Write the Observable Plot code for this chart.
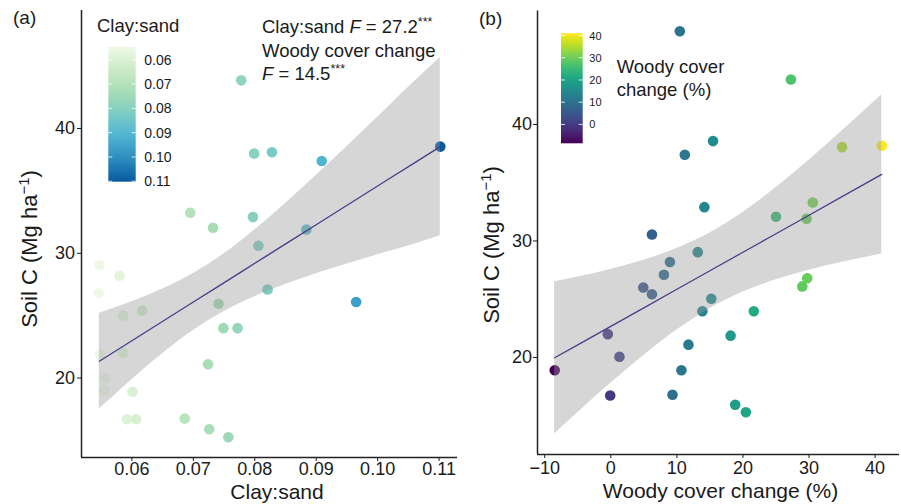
<!DOCTYPE html>
<html><head><meta charset="utf-8">
<script src="https://cdn.jsdelivr.net/npm/d3@7"></script>
<script src="https://cdn.jsdelivr.net/npm/@observablehq/plot@0.6"></script>
<style>
body{margin:0;background:#fff;}
#wrap{position:relative;width:901px;height:504px;overflow:hidden;font-family:"Liberation Sans",Arial,sans-serif;}
#wrap svg{position:absolute;top:0;}
</style></head><body><div id="wrap"></div>
<script>
// ---- Panel (a): Soil C vs clay:sand ----
const clayX = [0.0778,0.0799,0.0828,0.0909,0.1102,0.0695,0.0732,0.0797,0.0884,0.0806,
  0.0547,0.0580,0.0546,0.0586,0.0617,0.0741,0.0821,0.0965,0.0749,0.0772,
  0.0548,0.0586,0.0724,0.0557,0.0555,0.0601,0.0592,0.0607,0.0686,0.0726,0.0757];
const soilA = [43.86,38.0,38.1,37.4,38.55,33.25,32.05,32.9,31.9,30.6,
  29.06,28.2,26.8,25.0,25.4,25.95,27.1,26.1,24.0,24.0,
  21.9,22.0,21.1,20.0,19.05,18.9,16.7,16.7,16.75,15.9,15.25];
// fitted line and confidence band
const bandAx  = [0.0547,0.058,0.062,0.066,0.070,0.074,0.078,0.082,0.086,0.090,0.094,0.098,0.102,0.106,0.1102];
const bandAfit= [21.35,22.37,23.61,24.85,26.09,27.33,28.57,29.81,31.05,32.29,33.53,34.77,36.01,37.25,38.55];
const bandAlo = [17.51,18.99,20.73,22.35,23.81,25.05,26.07,26.93,27.67,28.35,28.98,29.58,30.16,30.73,31.4];
const bandAhi = [25.19,25.75,26.49,27.35,28.37,29.61,31.07,32.69,34.43,36.23,38.08,39.96,41.86,43.77,45.7];

// ---- Panel (b): Soil C vs woody cover change ----
const woodyX = [10.45,27.26,15.47,11.2,35.0,41.02,14.16,25.0,29.62,30.57,6.23,
  13.16,8.95,8.04,4.92,6.23,15.21,13.86,21.64,28.98,29.73,
  -0.45,1.31,-8.48,-0.09,11.75,18.13,10.69,9.34,18.83,20.44];
const soilB = [48.0,43.86,38.57,37.4,38.05,38.17,32.9,32.08,31.9,33.3,30.55,
  29.04,28.2,27.1,26.0,25.43,25.04,23.97,23.97,26.1,26.8,
  22.0,20.06,18.9,16.74,21.1,21.87,18.9,16.8,15.94,15.3];
const bandBx  = [-8.5,-5,0,5,10,15,20,25,30,35,41];
const bandBfit= [19.97,21.08,22.67,24.26,25.85,27.44,29.03,30.62,32.21,33.8,35.71];
const bandBlo = [13.44,15.25,17.78,20.17,22.35,24.19,25.61,26.67,27.49,28.17,28.87];
const bandBhi = [26.50,26.91,27.56,28.35,29.35,30.69,32.45,34.57,36.93,39.43,42.55];

// ---- ticks / labels ----
const xTicksA = [0.06,0.07,0.08,0.09,0.10,0.11];
const xTicksB = [-10,0,10,20,30,40];
const yTicks = [20,30,40];
const legTicksA = [0.06,0.07,0.08,0.09,0.10,0.11];
const legTicksB = [0,10,20,30,40];
const gnbu = ["#f0f9e8","#ccebc5","#a8ddb5","#7bccc4","#4eb3d3","#2b8cbe","#08589e"];
const colorDomA = [0.0546,0.1102];
const colorDomB = [-8.5,41.0];

const FONT = '"Liberation Sans",Arial,sans-serif';
const INK = "#1a1a1a";
const wrap = document.getElementById("wrap");
const interpA = d3.piecewise(d3.interpolateRgb, gnbu);

function baseStyle(){return {background:"transparent",overflow:"visible",fontFamily:FONT,maxWidth:"none",color:INK};}

// ---------- Plot A ----------
const ptsA = clayX.map((x,i)=>({x, y: soilA[i]}));
const bandA = bandAx.map((x,i)=>({x, fit: bandAfit[i], lo: bandAlo[i], hi: bandAhi[i]}));
const xDomA = [0.0518, 0.1130], yDomA = [13.63, 49.46];
const plotA = Plot.plot({
  width: 460, height: 504, marginLeft: 81, marginRight: 3, marginTop: 10, marginBottom: 47,
  style: baseStyle(),
  x: {domain: xDomA}, y: {domain: yDomA},
  color: {type: "linear", domain: colorDomA, interpolate: interpA},
  marks: [
    Plot.dot(ptsA, {x: "x", y: "y", fill: "x", r: 5.3}),
    Plot.areaY(bandA, {x: "x", y1: "lo", y2: "hi", fill: "#999999", fillOpacity: 0.4, curve: "monotone-x"}),
    Plot.line(bandA, {x: "x", y: "fit", stroke: "#483d8b", strokeWidth: 1.3}),
    Plot.ruleX([xDomA[0]], {stroke: "#222", strokeWidth: 1.5}),
    Plot.ruleY([yDomA[0]], {stroke: "#222", strokeWidth: 1.5}),
    Plot.axisX({ticks: xTicksA, tickFormat: d3.format(".2f"), tickSize: 4, tickPadding: 1, fontSize: 18, label: null}),
    Plot.axisY({ticks: yTicks, tickSize: 4, tickPadding: 2.5, fontSize: 18, label: null})
  ]
});
plotA.style.left = "0px";
wrap.appendChild(plotA);

// ---------- Plot B ----------
const ptsB = woodyX.map((x,i)=>({x, y: soilB[i]}));
const bandB = bandBx.map((x,i)=>({x, fit: bandBfit[i], lo: bandBlo[i], hi: bandBhi[i]}));
const xDomB = [-11.09, 43.69], yDomB = [11.67, 49.73];
const plotB = Plot.plot({
  width: 451, height: 504, marginLeft: 87, marginRight: 2, marginTop: 10.6, marginBottom: 50,
  style: baseStyle(),
  x: {domain: xDomB}, y: {domain: yDomB},
  color: {type: "linear", domain: colorDomB, scheme: "viridis"},
  marks: [
    Plot.dot(ptsB, {x: "x", y: "y", fill: "x", r: 5.3}),
    Plot.areaY(bandB, {x: "x", y1: "lo", y2: "hi", fill: "#999999", fillOpacity: 0.4, curve: "monotone-x"}),
    Plot.line(bandB, {x: "x", y: "fit", stroke: "#483d8b", strokeWidth: 1.3}),
    Plot.ruleX([xDomB[0]], {stroke: "#222", strokeWidth: 1.5}),
    Plot.ruleY([yDomB[0]], {stroke: "#222", strokeWidth: 1.5}),
    Plot.axisX({ticks: xTicksB, tickFormat: d3.format("d"), tickSize: 4, tickPadding: 3, fontSize: 18, label: null}),
    Plot.axisY({ticks: yTicks, tickSize: 4, tickPadding: 1.5, fontSize: 18, label: null})
  ]
});
plotB.style.left = "450px";
wrap.appendChild(plotB);

// ---------- decorations (titles, legends, annotation) ----------
function txt(g, x, y, s, size, anchor) {
  return g.append("text").attr("x", x).attr("y", y).attr("font-size", size)
    .attr("fill", INK).attr("font-family", FONT).attr("text-anchor", anchor || "start").text(s);
}
function yTitle(g, x, cy) {
  const t = g.append("text").attr("transform", `translate(${x},${cy}) rotate(-90)`)
    .attr("text-anchor", "middle").attr("font-size", 22).attr("fill", INK).attr("font-family", FONT);
  t.append("tspan").text("Soil C (Mg ha");
  t.append("tspan").attr("font-size", 15).attr("dy", -8).text("\u22121");
  t.append("tspan").attr("dy", 8).text(")");
}

// Panel A extras
const gA = d3.select(plotA).append("g").attr("text-anchor", "start");
txt(gA, 13, 23.5, "(a)", 19);
yTitle(gA, 37, 249);
txt(gA, 277, 498.5, "Clay:sand", 21, "middle");
// annotation
{
  const t1 = gA.append("text").attr("x", 262).attr("y", 33.3).attr("font-size", 18.5).attr("fill", INK).attr("text-anchor", "start");
  t1.append("tspan").text("Clay:sand ");
  t1.append("tspan").attr("font-style", "italic").text("F");
  t1.append("tspan").text(" = 27.2");
  t1.append("tspan").attr("font-size", 12.5).attr("dy", -7).text("***");
  txt(gA, 262, 56.7, "Woody cover change", 18.5);
  const t3 = gA.append("text").attr("x", 262).attr("y", 80).attr("font-size", 18.5).attr("fill", INK).attr("text-anchor", "start");
  t3.append("tspan").attr("font-style", "italic").text("F");
  t3.append("tspan").text(" = 14.5");
  t3.append("tspan").attr("font-size", 12.5).attr("dy", -7).text("***");
}
// legend A
{
  const defs = d3.select(plotA).append("defs");
  const lg = defs.append("linearGradient").attr("id", "gradA").attr("x1", 0).attr("y1", 0).attr("x2", 0).attr("y2", 1);
  d3.range(0, 21).forEach(i => lg.append("stop").attr("offset", i/20).attr("stop-color", interpA(i/20)));
  const x0 = 108.3, x1 = 135.7, yTop = 46.7, yBot = 181.7;
  const ly = d3.scaleLinear().domain(colorDomA).range([yTop, yBot]);
  txt(gA, 97, 32, "Clay:sand", 18.5);
  gA.append("rect").attr("x", x0).attr("y", yTop).attr("width", x1 - x0).attr("height", yBot - yTop).attr("fill", "url(#gradA)");
  legTicksA.forEach(v => {
    const y = ly(v);
    gA.append("line").attr("x1", x0).attr("x2", x0 + 4).attr("y1", y).attr("y2", y).attr("stroke", "white").attr("stroke-opacity", 0.8);
    gA.append("line").attr("x1", x1 - 4).attr("x2", x1).attr("y1", y).attr("y2", y).attr("stroke", "white").attr("stroke-opacity", 0.8);
    txt(gA, 144.3, y + 5, d3.format(".2f")(v), 14);
  });
}

// Panel B extras (local coordinates: global x - 450)
const gB = d3.select(plotB).append("g").attr("text-anchor", "start");
txt(gB, 29, 24.5, "(b)", 19);
yTitle(gB, 49, 245);
txt(gB, 270.5, 498, "Woody cover change (%)", 21, "middle");
{
  const defs = d3.select(plotB).append("defs");
  const lg = defs.append("linearGradient").attr("id", "gradB").attr("x1", 0).attr("y1", 0).attr("x2", 0).attr("y2", 1);
  d3.range(0, 21).forEach(i => lg.append("stop").attr("offset", i/20).attr("stop-color", d3.interpolateViridis(1 - i/20)));
  const x0 = 111, x1 = 132.7, yTop = 33.3, yBot = 143.3;
  const ly = d3.scaleLinear().domain([colorDomB[1], colorDomB[0]]).range([yTop, yBot]);
  gB.append("rect").attr("x", x0).attr("y", yTop).attr("width", x1 - x0).attr("height", yBot - yTop).attr("fill", "url(#gradB)");
  legTicksB.forEach(v => {
    const y = ly(v);
    gB.append("line").attr("x1", x0).attr("x2", x0 + 4).attr("y1", y).attr("y2", y).attr("stroke", "white").attr("stroke-opacity", 0.8);
    gB.append("line").attr("x1", x1 - 4).attr("x2", x1).attr("y1", y).attr("y2", y).attr("stroke", "white").attr("stroke-opacity", 0.8);
    txt(gB, 139.3, y + 4, String(v), 11);
  });
  txt(gB, 166.7, 73.3, "Woody cover", 18.5);
  txt(gB, 166.7, 96, "change (%)", 18.5);
}
</script></body></html>
